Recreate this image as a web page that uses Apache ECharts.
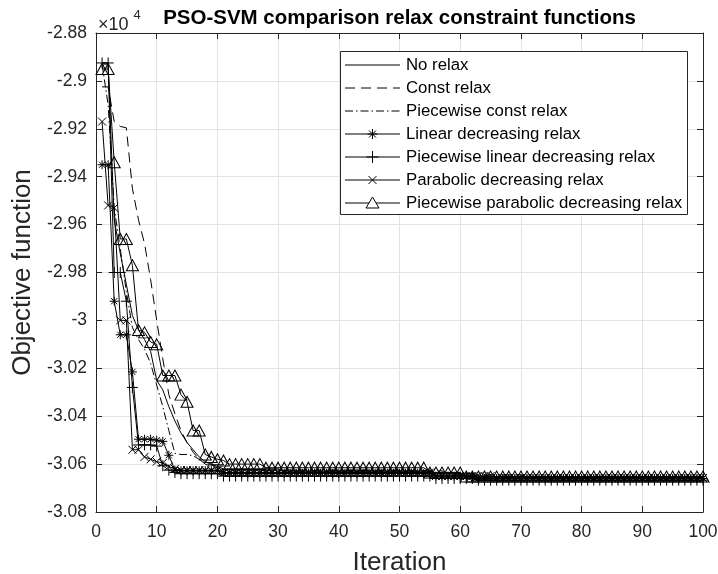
<!DOCTYPE html>
<html><head><meta charset="utf-8">
<script src="https://cdn.jsdelivr.net/npm/echarts@6/dist/echarts.min.js"></script>
<style>html,body{margin:0;padding:0;background:#fff}#c{width:718px;height:574px}</style>
</head><body><div id="c"></div>
<script>
const iterations = [1,2,3,4,5,6,7,8,9,10,11,12,13,14,15,16,17,18,19,20,21,22,23,24,25,26,27,28,29,30,31,32,33,34,35,36,37,38,39,40,41,42,43,44,45,46,47,48,49,50,51,52,53,54,55,56,57,58,59,60,61,62,63,64,65,66,67,68,69,70,71,72,73,74,75,76,77,78,79,80,81,82,83,84,85,86,87,88,89,90,91,92,93,94,95,96,97,98,99,100];
const seriesNames = ['No relax','Const relax','Piecewise const relax','Linear decreasing relax','Piecewise linear decreasing relax','Parabolic decreasing relax','Piecewise parabolic decreasing relax'];
const yTicks = [-3.08,-3.06,-3.04,-3.02,-3,-2.98,-2.96,-2.94,-2.92,-2.9,-2.88];
const xTicks = [0,10,20,30,40,50,60,70,80,90,100];

const noRelax = [
-2.893,-2.893,-2.958,-2.972,-2.985,-2.998,-3.004,-3.008,-3.013,-3.025,
-3.029,-3.036,-3.042,-3.047,-3.051,-3.054,-3.057,-3.059,-3.060,-3.061,
-3.062,-3.062,-3.062,-3.062,-3.062,-3.062,-3.062,-3.062,-3.062,-3.062,
-3.063,-3.063,-3.063,-3.063,-3.063,-3.063,-3.063,-3.063,-3.063,-3.063,
-3.063,-3.063,-3.063,-3.063,-3.063,-3.063,-3.063,-3.063,-3.063,-3.063,
-3.063,-3.063,-3.063,-3.063,-3.063,-3.064,-3.064,-3.064,-3.064,-3.064,
-3.0655,-3.0655,-3.0655,-3.0655,-3.0655,-3.0655,-3.0655,-3.0655,-3.0655,-3.0655,
-3.0655,-3.0655,-3.0655,-3.0655,-3.0655,-3.0655,-3.0655,-3.0655,-3.0655,-3.0655,
-3.0655,-3.0655,-3.0655,-3.0655,-3.0655,-3.0655,-3.0655,-3.0655,-3.0655,-3.0655,
-3.0655,-3.0655,-3.0655,-3.0655,-3.0655,-3.0655,-3.0655,-3.0655,-3.0655,-3.0655];

const constRelax = [
-2.9025,-2.9025,-2.917,-2.919,-2.9196,-2.945,-2.958,-2.968,-2.983,-3.000,
-3.016,-3.031,-3.039,-3.046,-3.051,-3.055,-3.058,-3.060,-3.061,-3.0615,
-3.0628,-3.0628,-3.0628,-3.0628,-3.0628,-3.0628,-3.0628,-3.0628,-3.0628,-3.0628,
-3.0628,-3.0628,-3.0628,-3.0628,-3.0628,-3.0628,-3.0628,-3.0628,-3.0628,-3.0628,
-3.0628,-3.0628,-3.0628,-3.0628,-3.0628,-3.0628,-3.0628,-3.0628,-3.0628,-3.0628,
-3.0628,-3.0628,-3.0628,-3.0628,-3.0628,-3.0628,-3.0628,-3.0645,-3.0645,-3.0645,
-3.0645,-3.0645,-3.0645,-3.0645,-3.0645,-3.0645,-3.0645,-3.0645,-3.0645,-3.0645,
-3.0656,-3.0656,-3.0656,-3.0656,-3.0656,-3.0656,-3.0656,-3.0656,-3.0656,-3.0656,
-3.0656,-3.0656,-3.0656,-3.0656,-3.0656,-3.0656,-3.0656,-3.0656,-3.0656,-3.0656,
-3.0656,-3.0656,-3.0656,-3.0656,-3.0656,-3.0656,-3.0656,-3.0656,-3.0656,-3.0656];

const pwConstRelax = [
-2.893,-2.910,-2.953,-2.970,-2.988,-3.003,-3.008,-3.012,-3.018,-3.027,
-3.036,-3.046,-3.0555,-3.056,-3.056,-3.0565,-3.058,-3.0595,-3.0605,-3.061,
-3.0625,-3.0625,-3.0625,-3.0625,-3.0625,-3.0625,-3.0625,-3.0625,-3.0625,-3.0625,
-3.0625,-3.0625,-3.0625,-3.0625,-3.0625,-3.0625,-3.0625,-3.0625,-3.0625,-3.0625,
-3.0625,-3.0625,-3.0625,-3.0625,-3.0625,-3.0625,-3.0625,-3.0625,-3.0625,-3.0625,
-3.0625,-3.0625,-3.064,-3.064,-3.064,-3.064,-3.064,-3.064,-3.064,-3.064,
-3.064,-3.064,-3.0658,-3.0658,-3.0658,-3.0658,-3.0658,-3.0658,-3.0658,-3.0658,
-3.0658,-3.0658,-3.0658,-3.0658,-3.0658,-3.0658,-3.0658,-3.0658,-3.0658,-3.0658,
-3.0658,-3.0658,-3.0658,-3.0658,-3.0658,-3.0658,-3.0658,-3.0658,-3.0658,-3.0658,
-3.0658,-3.0658,-3.0658,-3.0658,-3.0658,-3.0658,-3.0658,-3.0658,-3.0658,-3.0658];

const linearDecRelax = [
-2.935,-2.935,-2.992,-3.006,-3.006,-3.0215,-3.0496,-3.0496,-3.0496,-3.0500,
-3.0505,-3.0563,-3.0625,-3.0628,-3.0628,-3.0628,-3.0628,-3.0628,-3.0628,-3.0628,
-3.0638,-3.0638,-3.0638,-3.0638,-3.0638,-3.0638,-3.0638,-3.0638,-3.0638,-3.0638,
-3.0638,-3.0638,-3.0638,-3.0638,-3.0638,-3.0638,-3.0638,-3.0638,-3.0638,-3.0638,
-3.0638,-3.0638,-3.0638,-3.0638,-3.0638,-3.0638,-3.0638,-3.0638,-3.0638,-3.0638,
-3.0638,-3.0638,-3.0638,-3.0638,-3.0638,-3.065,-3.065,-3.065,-3.065,-3.065,
-3.065,-3.065,-3.066,-3.066,-3.066,-3.066,-3.066,-3.066,-3.066,-3.066,
-3.066,-3.066,-3.066,-3.066,-3.066,-3.066,-3.066,-3.066,-3.066,-3.066,
-3.066,-3.066,-3.066,-3.066,-3.066,-3.066,-3.066,-3.066,-3.066,-3.066,
-3.066,-3.066,-3.066,-3.066,-3.066,-3.066,-3.066,-3.066,-3.066,-3.066];

const pwLinearDecRelax = [
-2.8925,-2.8925,-2.980,-2.980,-2.992,-3.028,-3.052,-3.052,-3.052,-3.0525,
-3.0607,-3.0625,-3.0635,-3.064,-3.064,-3.064,-3.064,-3.064,-3.064,-3.064,
-3.065,-3.065,-3.065,-3.065,-3.065,-3.065,-3.065,-3.065,-3.065,-3.065,
-3.065,-3.065,-3.065,-3.065,-3.065,-3.065,-3.065,-3.065,-3.065,-3.065,
-3.065,-3.065,-3.065,-3.065,-3.065,-3.065,-3.065,-3.065,-3.065,-3.065,
-3.065,-3.065,-3.065,-3.065,-3.065,-3.066,-3.066,-3.066,-3.066,-3.066,
-3.066,-3.066,-3.0667,-3.0667,-3.0667,-3.0667,-3.0667,-3.0667,-3.0667,-3.0667,
-3.0667,-3.0667,-3.0667,-3.0667,-3.0667,-3.0667,-3.0667,-3.0667,-3.0667,-3.0667,
-3.0667,-3.0667,-3.0667,-3.0667,-3.0667,-3.0667,-3.0667,-3.0667,-3.0667,-3.0667,
-3.0667,-3.0667,-3.0667,-3.0667,-3.0667,-3.0667,-3.0667,-3.0667,-3.0667,-3.0667];

const parabolicDecRelax = [
-2.917,-2.952,-2.953,-3.000,-3.000,-3.054,-3.054,-3.057,-3.058,-3.059,
-3.0595,-3.061,-3.062,-3.0625,-3.0625,-3.0625,-3.0625,-3.0625,-3.0625,-3.0625,
-3.0635,-3.0635,-3.0635,-3.0635,-3.0635,-3.0635,-3.0635,-3.0635,-3.0635,-3.0635,
-3.0635,-3.0635,-3.0635,-3.0635,-3.0635,-3.0635,-3.0635,-3.0635,-3.0635,-3.0635,
-3.0635,-3.0635,-3.0635,-3.0635,-3.0635,-3.0635,-3.0635,-3.0635,-3.0635,-3.0635,
-3.0635,-3.0635,-3.0635,-3.0635,-3.0635,-3.065,-3.065,-3.065,-3.065,-3.065,
-3.065,-3.065,-3.065,-3.065,-3.065,-3.0658,-3.0658,-3.0658,-3.0658,-3.0658,
-3.0658,-3.0658,-3.0658,-3.0658,-3.0658,-3.0658,-3.0658,-3.0658,-3.0658,-3.0658,
-3.0658,-3.0658,-3.0658,-3.0658,-3.0658,-3.0658,-3.0658,-3.0658,-3.0658,-3.0658,
-3.0658,-3.0658,-3.0658,-3.0658,-3.0658,-3.0658,-3.0658,-3.0658,-3.0658,-3.0658];

const pwParabolicDecRelax = [
-2.895,-2.895,-2.934,-2.966,-2.966,-2.977,-3.004,-3.005,-3.009,-3.010,
-3.023,-3.023,-3.023,-3.031,-3.034,-3.046,-3.046,-3.056,-3.057,-3.058,
-3.0585,-3.0600,-3.0600,-3.0600,-3.0600,-3.0600,-3.0600,-3.0615,-3.0615,-3.0615,
-3.0615,-3.0615,-3.0615,-3.0615,-3.0615,-3.0615,-3.0615,-3.0615,-3.0615,-3.0615,
-3.0615,-3.0615,-3.0615,-3.0615,-3.0615,-3.0615,-3.0615,-3.0615,-3.0615,-3.0615,
-3.0615,-3.0615,-3.0615,-3.0615,-3.0635,-3.0635,-3.0635,-3.0635,-3.0635,-3.0635,
-3.0652,-3.0652,-3.0652,-3.0652,-3.0652,-3.0652,-3.0652,-3.0652,-3.0652,-3.0652,
-3.0652,-3.0652,-3.0652,-3.0652,-3.0652,-3.0652,-3.0652,-3.0652,-3.0652,-3.0652,
-3.0652,-3.0652,-3.0652,-3.0652,-3.0652,-3.0652,-3.0652,-3.0652,-3.0652,-3.0652,
-3.0652,-3.0652,-3.0652,-3.0652,-3.0652,-3.0652,-3.0652,-3.0652,-3.0652,-3.0652];

const FONT = '"Liberation Sans", Arial, Helvetica, sans-serif';
const AX = '#262626';
const GRIDC = '#e3e3e3';

const allData = [noRelax, constRelax, pwConstRelax, linearDecRelax, pwLinearDecRelax, parabolicDecRelax, pwParabolicDecRelax];
const dashes = ['solid', [10,6], [8,3,1.5,3], 'solid', 'solid', 'solid', 'solid'];
const symbols = ['none', 'none', 'none',
  'path://M5,0L5,10M0,5L10,5M1.6,1.6L8.4,8.4M8.4,1.6L1.6,8.4',
  'path://M5,0L5,10M0,5L10,5',
  'path://M0,0L10,10M10,0L0,10',
  'path://M5,0L10,9L0,9Z'];
const symSizes = [0, 0, 0, [9,9], [11,11], [8,8], [12,11]];

function pts(arr){ return arr.map((v,i)=>[iterations[i], v]); }

const series = allData.map((arr, k) => ({
  name: seriesNames[k],
  type: 'line',
  data: pts(arr),
  symbol: symbols[k],
  symbolSize: symSizes[k],
  showSymbol: symbols[k] !== 'none',
  showAllSymbol: true,
  lineStyle: {color: '#000', width: 1, type: dashes[k]},
  itemStyle: {color: 'rgba(0,0,0,0)', borderColor: '#000', borderWidth: 1},
  emphasis: {disabled: true},
  animation: false,
  clip: false,
  z: 2 + k
}));

// legend built as graphics
const legendG = [];
legendG.push({type:'rect', shape:{x:340.5, y:51.5, width:347, height:163}, style:{fill:'#fff', stroke:AX, lineWidth:1}, z:100});
seriesNames.forEach((nm, i) => {
  const y = 65 + 23*i;
  const cx = 372.5;
  legendG.push({type:'line', shape:{x1:345, y1:y, x2:400, y2:y}, style:{stroke:'#000', lineWidth:1, lineDash: Array.isArray(dashes[i]) ? dashes[i] : null}, z:101});
  if (i === 3) {
    [[0,-5,0,5],[-5,0,5,0],[-3.5,-3.5,3.5,3.5],[3.5,-3.5,-3.5,3.5]].forEach(s => legendG.push({type:'line', shape:{x1:cx+s[0],y1:y+s[1],x2:cx+s[2],y2:y+s[3]}, style:{stroke:'#000', lineWidth:1}, z:102}));
  } else if (i === 4) {
    [[0,-6,0,6],[-6,0,6,0]].forEach(s => legendG.push({type:'line', shape:{x1:cx+s[0],y1:y+s[1],x2:cx+s[2],y2:y+s[3]}, style:{stroke:'#000', lineWidth:1}, z:102}));
  } else if (i === 5) {
    [[-4,-4,4,4],[4,-4,-4,4]].forEach(s => legendG.push({type:'line', shape:{x1:cx+s[0],y1:y+s[1],x2:cx+s[2],y2:y+s[3]}, style:{stroke:'#000', lineWidth:1}, z:102}));
  } else if (i === 6) {
    legendG.push({type:'polygon', shape:{points:[[cx,y-6],[cx+6.5,y+5],[cx-6.5,y+5]]}, style:{fill:'#fff', stroke:'#000', lineWidth:1}, z:102});
  }
  legendG.push({type:'text', x:406, y:y, style:{text:nm, fontSize:16.8, fontFamily:FONT, fill:'#000', verticalAlign:'middle', align:'left'}, z:102});
});

const chart = echarts.init(document.getElementById('c'), null, {renderer:'canvas'});
const fmt = v => String(parseFloat(Number(v).toFixed(2)));

chart.setOption({
  backgroundColor: '#fff',
  animation: false,
  title: {
    text: 'PSO-SVM comparison relax constraint functions',
    left: 399.5, top: 8, textAlign: 'center', padding: 0,
    textStyle: {fontSize: 20.5, fontWeight: 'bold', fontFamily: FONT, color: '#000'}
  },
  grid: {left: 96, right: 15, top: 33, bottom: 62, containLabel: false, outerBoundsMode: 'none'},
  xAxis: [{
    type: 'value', min: xTicks[0], max: xTicks[xTicks.length-1], interval: 10,
    name: 'Iteration', nameLocation: 'middle', nameGap: 38,
    nameTextStyle: {fontSize: 26, fontFamily: FONT, color: AX},
    axisLine: {show: true, onZero: false, lineStyle: {color: AX, width: 1}},
    axisTick: {show: true, inside: true, length: 6, lineStyle: {color: AX}},
    axisLabel: {fontSize: 17.5, fontFamily: FONT, color: AX, margin: 11},
    splitLine: {show: true, lineStyle: {color: GRIDC, width: 1}}
  }, {
    type: 'value', position: 'top', min: 0, max: 100, interval: 10,
    axisLine: {show: true, onZero: false, lineStyle: {color: AX, width: 1}},
    axisTick: {show: true, inside: true, length: 6, lineStyle: {color: AX}},
    axisLabel: {show: false}, splitLine: {show: false}
  }],
  yAxis: [{
    type: 'value', min: yTicks[0], max: yTicks[yTicks.length-1], interval: 0.02,
    name: 'Objective function', nameLocation: 'middle', nameGap: 59,
    nameTextStyle: {fontSize: 26, fontFamily: FONT, color: AX},
    axisLine: {show: true, onZero: false, lineStyle: {color: AX, width: 1}},
    axisTick: {show: true, inside: true, length: 6, lineStyle: {color: AX}},
    axisLabel: {fontSize: 17.5, fontFamily: FONT, color: AX, margin: 9, formatter: fmt},
    splitLine: {show: true, lineStyle: {color: GRIDC, width: 1}}
  }, {
    type: 'value', position: 'right', min: -3.08, max: -2.88, interval: 0.02,
    axisLine: {show: true, onZero: false, lineStyle: {color: AX, width: 1}},
    axisTick: {show: true, inside: true, length: 6, lineStyle: {color: AX}},
    axisLabel: {show: false}, splitLine: {show: false}
  }],
  graphic: [
    {type:'text', x:98, y:16.5, style:{text:'×10', fontSize:18, fontFamily:FONT, fill:AX}, z:50},
    {type:'text', x:133.5, y:9, style:{text:'4', fontSize:13, fontFamily:FONT, fill:AX}, z:50}
  ].concat(legendG),
  series: series
});
</script>
</body></html>
